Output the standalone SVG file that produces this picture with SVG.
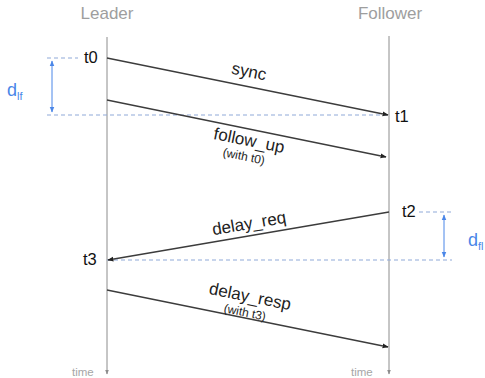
<svg xmlns="http://www.w3.org/2000/svg" width="485" height="378" viewBox="0 0 485 378">
  <style>
    .head { font-family: "Liberation Sans", Arial, sans-serif; font-size: 17px; fill: #9e9e9e; text-anchor: middle; }
    .ts { font-family: "Liberation Sans", Arial, sans-serif; font-size: 16.5px; fill: #111; }
    .msg { font-family: "Liberation Sans", Arial, sans-serif; font-size: 17px; fill: #222; text-anchor: middle; }
    .note { font-family: "Liberation Sans", Arial, sans-serif; font-size: 12px; fill: #222; text-anchor: middle; }
    .time { font-family: "Liberation Sans", Arial, sans-serif; font-size: 11.5px; fill: #a6a6a6; }
    .dl { font-family: "Liberation Sans", Arial, sans-serif; font-size: 18px; fill: #4a86e8; }
    .axis { stroke: #8c8c8c; stroke-width: 1; fill: none; }
    .arrow { stroke: #3c3c3c; stroke-width: 1.3; fill: none; marker-end: url(#ah); }
    .dash { stroke: #8fa9d8; stroke-width: 1; stroke-dasharray: 4 3; fill: none; }
    .span { stroke: #4a86e8; stroke-width: 1; fill: none; marker-start: url(#bh); marker-end: url(#bh); }
  </style>
  <defs>
    <marker id="ah" viewBox="0 0 10 10" refX="9" refY="5" markerWidth="6" markerHeight="6" markerUnits="userSpaceOnUse" orient="auto">
      <path d="M0,1 L10,5 L0,9 Z" fill="#222"/>
    </marker>
    <marker id="bh" viewBox="0 0 10 10" refX="9" refY="5" markerWidth="6" markerHeight="6" markerUnits="userSpaceOnUse" orient="auto-start-reverse">
      <path d="M0,1 L10,5 L0,9 Z" fill="#4a86e8"/>
    </marker>
    <marker id="th" viewBox="0 0 10 10" refX="9" refY="5" markerWidth="5" markerHeight="5" markerUnits="userSpaceOnUse" orient="auto">
      <path d="M0,1 L10,5 L0,9 Z" fill="#8c8c8c"/>
    </marker>
  </defs>

  <!-- lifelines -->
  <g id="leader">
    <text class="head" x="107" y="19">Leader</text>
    <line class="axis" x1="107" y1="37" x2="107" y2="374" marker-end="url(#th)"/>
    <text class="time" x="72" y="376">time</text>
  </g>
  <g id="follower">
    <text class="head" x="390" y="19">Follower</text>
    <line class="axis" x1="389" y1="36" x2="389" y2="374" marker-end="url(#th)"/>
    <text class="time" x="351" y="376">time</text>
  </g>

  <!-- timestamps -->
  <g id="t0"><text class="ts" x="84" y="63">t0</text></g>
  <g id="t1"><text class="ts" x="395" y="122">t1</text></g>
  <g id="t2"><text class="ts" x="402" y="217">t2</text></g>
  <g id="t3"><text class="ts" x="83" y="265">t3</text></g>

  <!-- delay spans -->
  <g id="d_lf">
    <line class="dash" x1="47" y1="58" x2="78" y2="58"/>
    <line class="dash" x1="47" y1="115" x2="389" y2="115"/>
    <line class="span" x1="52" y1="61" x2="52" y2="112"/>
    <text class="dl" x="7" y="96">d<tspan font-size="11" dy="4">lf</tspan></text>
  </g>
  <g id="d_fl">
    <line class="dash" x1="419" y1="212" x2="452" y2="212"/>
    <line class="dash" x1="107" y1="260" x2="452" y2="260"/>
    <line class="span" x1="444" y1="215" x2="444" y2="257"/>
    <text class="dl" x="468" y="246">d<tspan font-size="11" dy="4">fl</tspan></text>
  </g>

  <!-- messages -->
  <g id="connectors">
    <line class="arrow" x1="107" y1="58" x2="388" y2="115"/>
    <line class="arrow" x1="107" y1="100" x2="386" y2="157"/>
    <line class="arrow" x1="389" y1="212" x2="108" y2="260"/>
    <line class="arrow" x1="107" y1="290" x2="388" y2="347"/>
  </g>

  <g id="labels">
    <text class="msg" transform="translate(248,77) rotate(11.4)">sync</text>
    <g transform="translate(248,146) rotate(11.4)">
      <text class="msg" x="0" y="0">follow_up</text>
      <text class="note" x="-2" y="15">(with t0)</text>
    </g>
    <text class="msg" transform="translate(250,229) rotate(-9.7)">delay_req</text>
    <g transform="translate(249,302) rotate(11.4)">
      <text class="msg" x="0" y="0">delay_resp</text>
      <text class="note" x="-2" y="15">(with t3)</text>
    </g>
  </g>
</svg>
